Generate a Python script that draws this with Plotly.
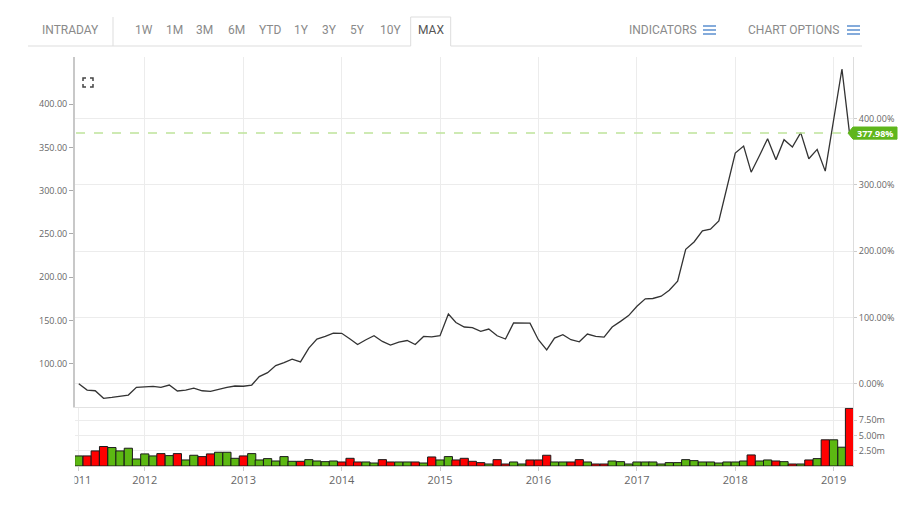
import pandas as pd
import plotly.graph_objects as go

# ---------------- data ----------------
start_month = "2011-05-01"
price = [76.7, 69.4, 68.6, 59.8, 60.9, 62.1, 63.6, 72.6, 72.9, 73.7,
         72.6, 75.2, 68.3, 69.4, 71.7, 68.6, 67.9, 70.6, 72.6, 74.1,
         73.8, 75.2, 84.9, 89.5, 97.7, 101.2, 105.1, 102.0, 117.9, 128.4,
         131.4, 135.3, 135.0, 128.4, 122.1, 127.6, 132.2, 125.6, 121.4, 124.9,
         126.7, 122.1, 131.4, 131.0, 132.2, 157.4, 147.5, 142.3, 141.5, 137.2,
         140.0, 132.2, 128.4, 147.0, 147.3, 146.8, 127.6, 115.9, 129.5, 133.4,
         127.6, 125.2, 134.2, 131.4, 130.7, 142.3, 148.8, 155.5, 166.3, 174.9,
         175.3, 177.9, 184.9, 195.3, 232.2, 240.7, 253.5, 255.5, 265.1, 302.0,
         343.5, 351.6, 321.4, 340.7, 360.1, 335.7, 359.0, 350.5, 367.1, 336.9,
         347.7, 322.6, 382.2, 440.7, 366.61]
volume_m = [1.65, 1.65, 2.47, 3.19, 3.02, 2.47, 2.91, 1.15, 1.98, 1.65,
            2.03, 1.70, 2.03, 0.99, 1.76, 1.54, 1.98, 2.25, 2.25, 1.26,
            1.65, 2.03, 0.99, 1.21, 0.82, 1.54, 0.77, 0.77, 1.04, 0.82,
            0.71, 0.82, 0.66, 1.26, 0.66, 0.66, 0.49, 1.04, 0.66, 0.66,
            0.66, 0.66, 0.49, 1.48, 0.99, 1.54, 0.99, 1.26, 0.77, 0.55,
            0.33, 1.04, 0.33, 0.66, 0.33, 0.99, 0.99, 1.76, 0.66, 0.66,
            0.66, 1.04, 0.66, 0.33, 0.33, 0.82, 0.71, 0.33, 0.66, 0.66,
            0.66, 0.33, 0.55, 0.55, 1.04, 0.88, 0.66, 0.66, 0.49, 0.66,
            0.66, 0.82, 1.81, 0.82, 0.99, 0.82, 0.71, 0.33, 0.33, 0.99,
            1.21, 4.29, 4.29, 3.08, 9.45]
volume_dir = list("grrrgggggg" "rgrggrrggg" "rggggggrgg" "ggrrrggrrg" "grgrggrrrr"
                  "grrggrrrgg" "rrgrrggggg" "gggggggggg" "ggrggrgrgr" "grggr")

x_tick_dates = ["2011-05-01", "2012-01-01", "2013-01-01", "2014-01-01", "2015-01-01",
                "2016-01-01", "2017-01-01", "2018-01-01", "2019-01-01"]
x_tick_text = ["2011", "2012", "2013", "2014", "2015", "2016", "2017", "2018", "2019"]
price_ticks = [100, 150, 200, 250, 300, 350, 400]
pct_ticks = [0, 100, 200, 300, 400]
vol_ticks = [2.5, 5.0, 7.5]
range_buttons = ["1W", "1M", "3M", "6M", "YTD", "1Y", "3Y", "5Y", "10Y"]

# ---------------- derived ----------------
dates = pd.date_range(start_month, periods=len(price), freq="MS")
base = price[0]
pct = [(p / base - 1) * 100 for p in price]
last_pct = pct[-1]
bar_colors = ["#5cb812" if d == "g" else "#ff0000" for d in volume_dir]

W, H = 920, 521
def px(x):
    return x / W
def py(y):
    return 1 - y / H

y_range = [49.8, 454.6]
pct_range = [(v / base - 1) * 100 for v in y_range]
x_range = ["2011-04-17", "2019-03-14"]

fig = go.Figure()
fig.add_trace(go.Scatter(x=dates, y=price, mode="lines",
                         line=dict(color="#333333", width=1.3),
                         xaxis="x", yaxis="y", hoverinfo="skip"))
fig.add_trace(go.Scatter(x=dates, y=pct, mode="lines",
                         line=dict(color="rgba(0,0,0,0)", width=0),
                         xaxis="x", yaxis="y2", hoverinfo="skip"))
fig.add_trace(go.Bar(x=dates, y=volume_m,
                     marker=dict(color=bar_colors, line=dict(color="#1a1a1a", width=1)),
                     width=30.4 * 86400000, xaxis="x2", yaxis="y3", hoverinfo="skip"))

tickfont = dict(family="Open Sans, Arial", size=9, color="#666666")
dom_x = [px(75), px(853)]
fig.update_layout(
    width=W, height=H, margin=dict(l=0, r=0, t=0, b=0, pad=0, autoexpand=False),
    paper_bgcolor="white", plot_bgcolor="white", showlegend=False,
    font=dict(family="Open Sans, Arial", color="#666666"),
    xaxis=dict(domain=dom_x, range=x_range, anchor="y", showticklabels=False, automargin=False,
               tickvals=x_tick_dates[1:], showgrid=True, gridcolor="#ececec",
               showline=True, linecolor="#e2e2e2", linewidth=1, ticks="", zeroline=False),
    xaxis2=dict(domain=dom_x, range=x_range, anchor="y3", automargin=False,
                tickvals=x_tick_dates, ticktext=x_tick_text, ticks="outside", ticklen=4,
                tickcolor="#cccccc", showline=True, linecolor="#cccccc", showgrid=True,
                gridcolor="#ececec", zeroline=False,
                tickfont=dict(family="Open Sans, Arial", size=11, color="#666666")),
    yaxis=dict(domain=[py(407), py(57)], range=y_range, anchor="x", automargin=False,
               tickvals=price_ticks, ticktext=[f"{v:.2f}" for v in price_ticks],
               ticks="outside", ticklen=4, tickcolor="#aaaaaa", showline=True,
               linecolor="#c8c8c8", linewidth=2, showgrid=False, zeroline=False,
               tickfont=tickfont),
    yaxis2=dict(overlaying="y", side="right", anchor="x", range=pct_range, automargin=False,
                tickvals=pct_ticks, ticktext=[f"{v:.2f}%" for v in pct_ticks],
                showgrid=True, gridcolor="#ececec", showline=True, linecolor="#dddddd",
                ticks="outside", ticklen=3, tickcolor="#cccccc", zeroline=False,
                tickfont=tickfont),
    yaxis3=dict(domain=[py(466), py(408)], range=[0, 9.5], anchor="x2", side="right",
                automargin=False,
                tickvals=vol_ticks, ticktext=[f"{v:.2f}m" for v in vol_ticks],
                showgrid=True, gridcolor="#ececec", showline=True, linecolor="#dddddd",
                ticks="outside", ticklen=3, tickcolor="#cccccc", zeroline=False,
                tickfont=tickfont),
)

shapes = []
line_c = "#dddddd"
# toolbar lines
shapes.append(dict(type="line", xref="paper", yref="paper", x0=px(28), x1=px(410.7), y0=py(46), y1=py(46), line=dict(color=line_c, width=1)))
shapes.append(dict(type="line", xref="paper", yref="paper", x0=px(450.7), x1=px(862), y0=py(46), y1=py(46), line=dict(color=line_c, width=1)))
shapes.append(dict(type="path", xref="paper", yref="paper",
                   path=f"M {px(410.7)},{py(46)} L {px(410.7)},{py(17)} L {px(450.7)},{py(17)} L {px(450.7)},{py(46)}",
                   line=dict(color=line_c, width=1)))
shapes.append(dict(type="line", xref="paper", yref="paper", x0=px(113), x1=px(113), y0=py(17), y1=py(46), line=dict(color=line_c, width=1)))
# hamburger icons
for x0 in (703, 847):
    for yy in (26, 30, 34):
        shapes.append(dict(type="line", xref="paper", yref="paper", x0=px(x0), x1=px(x0 + 13),
                           y0=py(yy), y1=py(yy), line=dict(color="#5b8fcf", width=1.5)))
# expand icon
for path_pts in [[(83, 81), (83, 78), (86, 78)], [(90, 78), (93, 78), (93, 81)],
                 [(83, 84), (83, 87), (86, 87)], [(90, 87), (93, 87), (93, 84)]]:
    p = "M " + " L ".join(f"{px(a)},{py(b)}" for a, b in path_pts)
    shapes.append(dict(type="path", xref="paper", yref="paper", path=p, line=dict(color="#444444", width=1.5)))
# dashed last-value line
shapes.append(dict(type="line", xref="paper", yref="y", x0=px(76), x1=px(852), y0=price[-1], y1=price[-1],
                   line=dict(color="#bfe39a", width=1.5, dash="dash")))
# last-value label box
hh = 7.0
lv = price[-1]
shapes.append(dict(type="path", xref="paper", yref="y",
                   path=f"M {px(848)},{lv} L {px(853)},{lv + hh} L {px(897)},{lv + hh} L {px(897)},{lv - hh} L {px(853)},{lv - hh} Z",
                   fillcolor="#5fb61c", line=dict(color="#5fb61c", width=1), layer="above"))
# clip left part of first year label
shapes.append(dict(type="rect", xref="paper", yref="paper", x0=px(40), x1=px(74.5), y0=py(492), y1=py(469),
                   fillcolor="white", line=dict(width=0), layer="above"))
fig.update_layout(shapes=shapes)

ann = []
tb_font = dict(family="Roboto, Arial", size=12, color="#8a8a8a")
ann.append(dict(text="INTRADAY", x=px(70.5), y=py(30.5), xref="paper", yref="paper", showarrow=False,
                xanchor="center", yanchor="middle", font=tb_font))
centers = [143.5, 174, 204.5, 236.7, 270, 301, 329, 357, 390]
for lab, cx in zip(range_buttons, centers):
    ann.append(dict(text=lab, x=px(cx), y=py(30.5), xref="paper", yref="paper", showarrow=False,
                    xanchor="center", yanchor="middle", font=tb_font))
ann.append(dict(text="MAX", x=px(430.5), y=py(30.5), xref="paper", yref="paper", showarrow=False,
                xanchor="center", yanchor="middle", font=dict(family="Roboto, Arial", size=12, color="#555555")))
ann.append(dict(text="INDICATORS", x=px(699), y=py(30.5), xref="paper", yref="paper", showarrow=False,
                xanchor="right", yanchor="middle", font=tb_font))
ann.append(dict(text="CHART OPTIONS", x=px(841), y=py(30.5), xref="paper", yref="paper", showarrow=False,
                xanchor="right", yanchor="middle", font=tb_font))
ann.append(dict(text=f"{last_pct:.2f}%", x=px(875), y=lv, xref="paper", yref="y", showarrow=False,
                xanchor="center", yanchor="middle",
                font=dict(family="Open Sans, Arial", size=9, color="white", weight="bold")))
fig.update_layout(annotations=ann)

fig.write_html("out.html")
